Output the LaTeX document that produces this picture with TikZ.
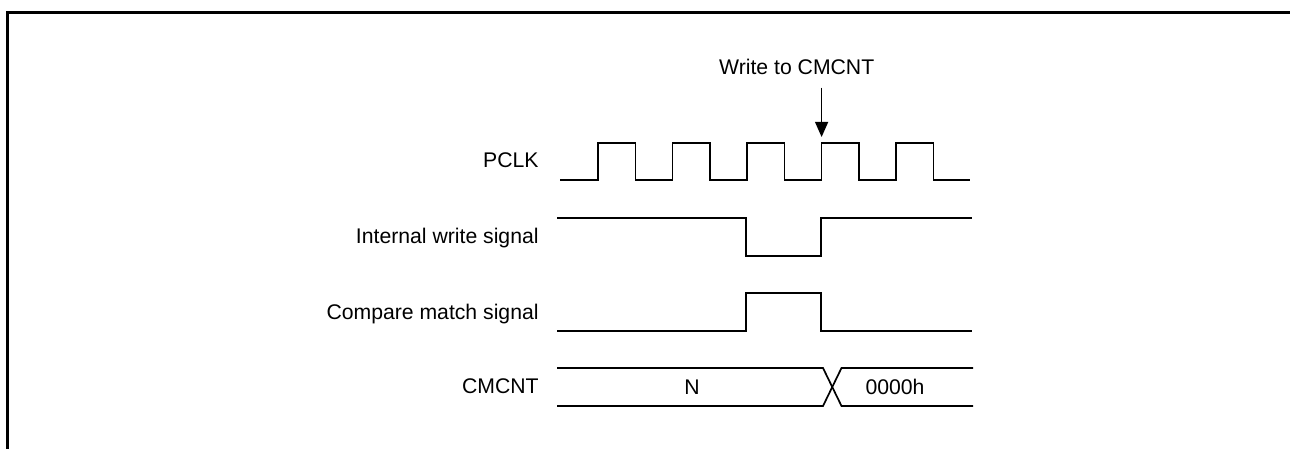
\documentclass[tikz,border=0pt]{standalone}
\usepackage{fontspec}
\setmainfont{Liberation Sans}
\usetikzlibrary{arrows.meta, positioning, calc}

\begin{document}
\begin{tikzpicture}[x=0.5pt, y=-0.5pt,
            lbl/.style={anchor=base east, inner sep=0pt, font=\fontsize{10.6}{12}\selectfont},
            val/.style={anchor=base, inner sep=0pt, font=\fontsize{10.6}{12}\selectfont},
            wave/.style={draw=black, line width=0.85pt, line join=miter},
            frame/.style={draw=black, line width=1.35pt, line join=miter},
            mark arrow/.style={draw=black, line width=0.6pt, -{Triangle[length=7.5pt, width=6.5pt]}}]
            \useasboundingbox (0,0) rectangle (1290,449);
            % outer frame
            \draw[frame] (7.7,449) -- (7.7,12.3) -- (1290,12.3);
            % signal names
            \node[lbl] (pclk) at (539,168)   {PCLK};
            \node[lbl] (iws)  at (539,243)   {Internal write signal};
            \node[lbl] (cms)  at (539,319.5) {Compare match signal};
            \node[lbl] (cnt)  at (539,393)   {CMCNT};
            % PCLK
            \draw[wave] (560,180)
                foreach \r in {598,672.5,747,821.5,896} { -- (\r,180) -- (\r,143) -- (\r+37.5,143) -- (\r+37.5,180) }
                -- (970,180);
            % internal write signal
            \draw[wave] (557,218) -- (746,218) -- (746,256) -- (821,256) -- (821,218) -- (972,218);
            % compare match signal
            \draw[wave] (557,331) -- (746,331) -- (746,293) -- (821,293) -- (821,331) -- (972,331);
            % CMCNT bus
            \draw[wave] (557,368) -- (823,368) -- (841.5,406) -- (973,406);
            \draw[wave] (557,406) -- (823,406) -- (841.5,368) -- (973,368);
            \node[val] (n)    at (692,394) {N};
            \node[val] (zero) at (895,394) {0000h};
            % write marker
            \node[val, inner sep=6pt] (wr) at (796.7,75) {Write to CMCNT};
            \coordinate (tip) at (821.6,137);
            \draw[mark arrow] (wr.south -| tip) -- (tip);
        \end{tikzpicture}
\end{document}
